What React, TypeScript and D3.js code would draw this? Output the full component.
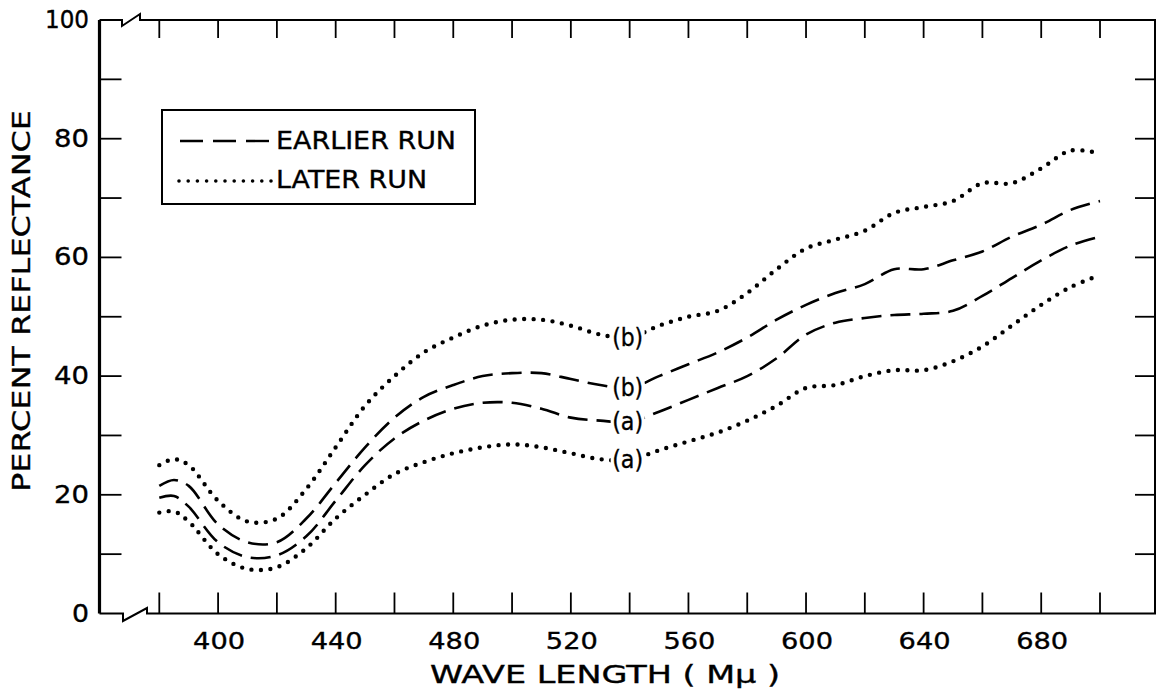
import React from "react";
import * as d3 from "d3";

// wave length in m-micron, read at 10 nm steps (plus 385 for the little bump)
const waveLengths = [380, 385, 390, 400, 410, 420, 430, 440, 450, 460, 470, 480, 490, 500, 510, 520, 530, 540, 550, 560, 570, 580, 590, 600, 610, 620, 630, 640, 650, 660, 670, 680, 690, 700];

const laterB = [25, 26, 25, 19, 15.5, 16, 21, 28, 35, 40, 44, 46.5, 48.5, 49.5, 49.5, 48.5, 47, 46.5, 48.5, 50, 51, 54, 58, 61.5, 63, 64.5, 67.5, 68.5, 69.5, 72.5, 72.5, 75, 78, 77.5];
const earlierB = [21.5, 22.5, 21.5, 15, 12, 12, 16, 22, 28, 33, 36.5, 38.5, 40, 40.5, 40.5, 39.5, 38.5, 38, 40, 42, 44, 46.5, 49.5, 52, 54, 55.5, 58, 58, 59.5, 61, 63.5, 65.5, 68, 69.5];
const earlierA = [19.5, 19.8, 18, 12, 9.5, 9.8, 13, 19, 25, 29.5, 32.5, 34.5, 35.5, 35.5, 34.5, 33, 32.5, 32.3, 34, 36, 38, 40, 43, 47, 49, 49.8, 50.3, 50.5, 51, 53.5, 56.5, 59.5, 62, 63.5];
const laterA = [17, 17.2, 15.5, 10, 7.5, 7.8, 11, 16, 20, 23.5, 25.5, 27, 28, 28.5, 28, 27, 26, 25.9, 27.5, 29, 30.5, 32.5, 35, 38, 38.5, 40, 41, 41, 42.5, 45, 48.5, 52, 55, 57];

const yTickLabels = [0, 20, 40, 60, 80, 100];
const yMinorTicks = [10, 20, 30, 40, 50, 60, 70, 80, 90];
const xTickLabels = [400, 440, 480, 520, 560, 600, 640, 680];
const xTicks = d3.range(380, 701, 20);
const labelAt = 540;

const curves = [
  { name: "later-b", values: laterB, run: "later", tag: "(b)" },
  { name: "earlier-b", values: earlierB, run: "earlier", tag: "(b)" },
  { name: "earlier-a", values: earlierA, run: "earlier", tag: "(a)" },
  { name: "later-a", values: laterA, run: "later", tag: "(a)" },
];

const W = 1156;
const H = 694;
const FONT = "'DejaVu Sans', Verdana, sans-serif";

const frame = { left: 99.5, right: 1155, top: 20, bottom: 613.5 };

// stretched text, the old lettering is wider than any font we have
const Label = (p: { x: number; y: number; len: number; size: number; anchor?: string; transform?: string; children: React.ReactNode }) => (
  <text
    x={p.x}
    y={p.y}
    transform={p.transform}
    textAnchor={p.anchor ?? "start"}
    dominantBaseline="central"
    fontFamily={FONT}
    fontSize={p.size}
    textLength={p.len}
    lengthAdjust="spacingAndGlyphs"
    stroke="#000"
    strokeWidth={0.35}
  >
    {p.children}
  </text>
);

export default function App() {
  const x = d3.scaleLinear().domain([380, 700]).range([159.3, 1100]);
  const y = d3.scaleLinear().domain([0, 100]).range([frame.bottom, frame.top]);

  const line = d3
    .line<number>()
    .x((_, i) => x(waveLengths[i]))
    .y((d) => y(d))
    .curve(d3.curveCatmullRom.alpha(0.5));

  const dashed = { strokeDasharray: "20 9", strokeWidth: 2.6, strokeLinecap: "butt" as const };
  const dotted = { strokeDasharray: "0 9.5", strokeWidth: 4.4, strokeLinecap: "round" as const };

  const { left, right, top, bottom } = frame;

  return (
    <div style={{ position: "fixed", left: 0, top: 0 }}>
      <svg width={W} height={H} viewBox={`0 0 ${W} ${H}`} style={{ display: "block", background: "#fff" }}>
        {/* frame with axis breaks */}
        <path d={`M${left},${top} H122 V26 L140,14 V${top} H${right} V${bottom} H147 V608 L123,621 V${bottom} H${left}`} fill="none" stroke="#000" strokeWidth={2} />
        <line x1={left} x2={left} y1={top} y2={bottom} stroke="#000" strokeWidth={3.2} />

        {/* y ticks, both sides */}
        {yMinorTicks.map((v) => (
          <g key={"yt" + v}>
            <line x1={left} x2={left + 22} y1={y(v)} y2={y(v)} stroke="#000" strokeWidth={1.8} />
            <line x1={right - 20} x2={right} y1={y(v)} y2={y(v)} stroke="#000" strokeWidth={1.8} />
          </g>
        ))}
        {/* x ticks, top and bottom */}
        {xTicks.map((v) => (
          <g key={"xt" + v}>
            <line x1={x(v)} x2={x(v)} y1={top} y2={top + 18} stroke="#000" strokeWidth={1.8} />
            <line x1={x(v)} x2={x(v)} y1={bottom} y2={bottom - 21} stroke="#000" strokeWidth={1.8} />
          </g>
        ))}

        {yTickLabels.map((v) => {
          const s = String(v);
          const len = s.length === 1 ? 17 : s.length === 2 ? 35 : 44;
          return (
            <Label key={"yl" + v} x={89} y={y(v)} len={len} size={24} anchor="end">
              {s}
            </Label>
          );
        })}
        {xTickLabels.map((v) => (
          <Label key={"xl" + v} x={x(v) + 1} y={641} len={52} size={23} anchor="middle">
            {v}
          </Label>
        ))}

        <Label x={605} y={675} len={350} size={24} anchor="middle">
          WAVE LENGTH ( Mμ )
        </Label>
        <Label x={0} y={0} transform="translate(22,301) rotate(-90)" len={382} size={24} anchor="middle">
          PERCENT REFLECTANCE
        </Label>

        {/* curves */}
        {curves.map((c) => (
          <path key={c.name} d={line(c.values) ?? ""} fill="none" stroke="#000" {...(c.run === "earlier" ? dashed : dotted)} />
        ))}
        {curves.map((c) => {
          const i = waveLengths.indexOf(labelAt);
          const cx = x(labelAt) - 2;
          const cy = y(c.values[i]);
          return (
            <g key={"lab" + c.name}>
              <rect x={cx - 17} y={cy - 14} width={34} height={28} fill="#fff" />
              <Label x={cx} y={cy} len={31} size={24} anchor="middle">
                {c.tag}
              </Label>
            </g>
          );
        })}

        {/* legend */}
        <rect x={162} y={110} width={313} height={94} fill="#fff" stroke="#000" strokeWidth={2} />
        <line x1={180} x2={272} y1={141} y2={141} stroke="#000" strokeWidth={2.4} strokeDasharray="23 10" />
        <line x1={179} x2={272} y1={181} y2={181} stroke="#000" strokeWidth={3.6} strokeDasharray="0 9.2" strokeLinecap="round" />
        <Label x={276} y={141} len={180} size={24}>
          EARLIER RUN
        </Label>
        <Label x={276} y={180} len={151} size={24}>
          LATER RUN
        </Label>
      </svg>
    </div>
  );
}
